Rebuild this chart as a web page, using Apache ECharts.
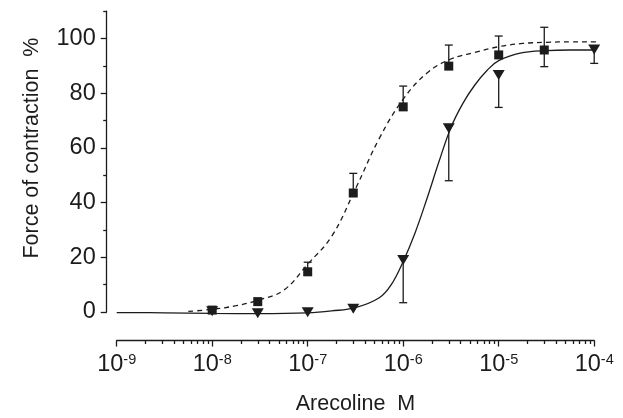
<!DOCTYPE html>
<html><head><meta charset="utf-8">
<script src="https://cdn.jsdelivr.net/npm/echarts@6/dist/echarts.min.js"></script>
<style>html,body{margin:0;padding:0;background:#fff}#c{width:623px;height:418px}</style>
</head><body><div id="c"></div>
<script>
const FONT = "'Liberation Sans', Arial, sans-serif";
const INK = '#1d1b1c';

// Squares (dashed fit)
const squareConc     = [1e-8, 3e-8, 1e-7, 3e-7, 1e-6, 3e-6, 1e-5, 3e-5];
const squareValues   = [0.7, 3.8, 14.7, 43.5, 75.0, 89.9, 94.0, 95.8];
const squareErrLow   = [0.7, 3.8, 14.7, 43.5, 75.0, 89.9, 94.0, 89.7];
const squareErrHigh  = [0.7, 3.8, 18.2, 50.7, 82.6, 97.6, 100.9, 104.1];

// Inverted triangles (solid fit)
const triangleConc    = [1e-8, 3e-8, 1e-7, 3e-7, 1e-6, 3e-6, 1e-5, 1e-4];
const triangleValues  = [0.3, -0.5, -0.1, 1.2, 19.0, 67.2, 86.7, 96.0];
const triangleErrLow  = [0.3, -0.5, -0.1, 1.2, 3.4, 48.0, 74.8, 90.9];
const triangleErrHigh = [0.3, -0.5, -0.1, 1.2, 19.0, 67.2, 86.7, 96.0];

// Fitted curves (log10 of concentration)
const dashedLogConc = [-8.25, -8, -7.75, -7.5, -7.25, -7, -6.75, -6.5, -6.25, -6, -5.75, -5.5, -5.25, -5, -4.75, -4.5, -4.25, -4, -3.92];
const dashedValues  = [0.2, 1.0, 2.3, 4.5, 8.0, 17.5, 27.6, 45, 63.5, 77.8, 87.4, 92.5, 94.9, 97, 98.2, 98.6, 98.8, 98.8, 98.8];
const solidLogConc  = [-9, -8.5, -8, -7.5, -7, -6.75, -6.5, -6.25, -6.125, -6, -5.875, -5.75, -5.625, -5.5, -5.375, -5.25, -5.125, -5, -4.75, -4.5, -4.25, -4, -3.92];
const solidValues   = [-0.2, -0.3, -0.5, -0.6, -0.3, 0.4, 1.6, 5.2, 10.0, 18.5, 29.0, 41.6, 55, 67.5, 76.3, 83, 88.2, 91.9, 94.8, 95.6, 95.8, 95.8, 95.8];

// Axes
const xTickExponents = [-9, -8, -7, -6, -5, -4];
const xMinorMultipliers = [2, 3, 4, 5, 6, 7, 8, 9];
const yTickLabels = [0, 20, 40, 60, 80, 100];
const yMinorTicks = [10, 30, 50, 70, 90, 110];
const xTitle = 'Arecoline  M';
const yTitle = 'Force of contraction  %';

const xMinorTicks = [];
for (let i = 0; i < xTickExponents.length - 1; i++) {
  xMinorMultipliers.forEach(k => xMinorTicks.push(xTickExponents[i] + Math.log10(k)));
}

const lg = c => Math.log10(c);
const errData = (conc, vals, lo, hi) => conc.map((c, i) => [lg(c), vals[i], lo[i], hi[i]]);

function renderErr(params, api) {
  const x = api.value(0), v = api.value(1), lo = api.value(2), hi = api.value(3);
  if (lo === hi) return null;
  const pLo = api.coord([x, lo]);
  const pHi = api.coord([x, hi]);
  const st = { stroke: INK, lineWidth: 1.3, fill: null };
  const children = [{ type: 'line', shape: { x1: pLo[0], y1: pLo[1], x2: pHi[0], y2: pHi[1] }, style: st }];
  const cw = 4;
  if (hi > v) children.push({ type: 'line', shape: { x1: pHi[0] - cw, y1: pHi[1], x2: pHi[0] + cw, y2: pHi[1] }, style: st });
  if (lo < v) children.push({ type: 'line', shape: { x1: pLo[0] - cw, y1: pLo[1], x2: pLo[0] + cw, y2: pLo[1] }, style: st });
  return { type: 'group', children };
}

const axisLineStyle = { color: INK, width: 1.3 };
const common = { min: -9, max: -4, interval: 1, type: 'value', position: 'bottom', offset: 28.5, splitLine: { show: false } };
const commonY = { min: 0, max: 110, interval: 10, type: 'value', position: 'left', offset: 10, splitLine: { show: false } };

const chart = echarts.init(document.getElementById('c'), null, { renderer: 'canvas' });
chart.setOption({
  animation: false,
  backgroundColor: '#fff',
  grid: { left: 116.7, right: 28.8, top: 11.15, bottom: 106, containLabel: false, outerBoundsMode: 'none' },
  xAxis: [
    Object.assign({}, common, {
      axisLine: { show: true, onZero: false, lineStyle: axisLineStyle },
      axisTick: { show: true, length: 6, inside: false, lineStyle: axisLineStyle, customValues: xTickExponents },
      axisLabel: {
        margin: 12, customValues: xTickExponents,
        formatter: v => '{b|10}{s|' + v + '}',
        rich: {
          b: { fontSize: 23.5, fontFamily: FONT, color: INK },
          s: { fontSize: 14.5, fontFamily: FONT, color: INK, verticalAlign: 'top' }
        }
      },
      name: xTitle, nameLocation: 'middle', nameGap: 53,
      nameTextStyle: { fontSize: 21.5, fontFamily: FONT, color: INK }
    }),
    Object.assign({}, common, {
      axisLine: { show: false, onZero: false },
      axisTick: { show: true, length: 3.5, lineStyle: axisLineStyle, customValues: xMinorTicks },
      axisLabel: { show: false }
    })
  ],
  yAxis: [
    Object.assign({}, commonY, {
      axisLine: { show: true, onZero: false, lineStyle: axisLineStyle },
      axisTick: { show: true, length: 6, lineStyle: axisLineStyle, customValues: yTickLabels },
      axisLabel: { margin: 11, customValues: yTickLabels, fontSize: 23.5, fontFamily: FONT, color: INK },
      name: yTitle, nameLocation: 'middle', nameGap: 64, nameRotate: 90,
      nameTextStyle: { fontSize: 21.5, fontFamily: FONT, color: INK, padding: [0, 0, 0, 27] }
    }),
    Object.assign({}, commonY, {
      axisLine: { show: false, onZero: false },
      axisTick: { show: true, length: 3.5, lineStyle: axisLineStyle, customValues: yMinorTicks },
      axisLabel: { show: false }
    })
  ],
  series: [
    { type: 'custom', name: 'sqErr', renderItem: renderErr, data: errData(squareConc, squareValues, squareErrLow, squareErrHigh), z: 2, silent: true, clip: false },
    { type: 'custom', name: 'triErr', renderItem: renderErr, data: errData(triangleConc, triangleValues, triangleErrLow, triangleErrHigh), z: 2, silent: true, clip: false },
    { type: 'line', name: 'dashed fit', data: dashedLogConc.map((x, i) => [x, dashedValues[i]]), showSymbol: false, smooth: 0.4, clip: false, z: 3,
      lineStyle: { color: INK, width: 1.3, type: [5, 4] }, silent: true },
    { type: 'line', name: 'solid fit', data: solidLogConc.map((x, i) => [x, solidValues[i]]), showSymbol: false, smooth: 0.4, clip: false, z: 3,
      lineStyle: { color: INK, width: 1.3 }, silent: true },
    { type: 'scatter', name: 'triangles', data: triangleConc.map((c, i) => [lg(c), triangleValues[i]]), symbol: 'triangle', symbolRotate: 180,
      symbolSize: [12, 10], itemStyle: { color: INK, opacity: 1 }, clip: false, z: 4 },
    { type: 'scatter', name: 'squares', data: squareConc.map((c, i) => [lg(c), squareValues[i]]), symbol: 'rect',
      symbolSize: 9, itemStyle: { color: INK, opacity: 1 }, clip: false, z: 5 }
  ]
});
</script></body></html>
